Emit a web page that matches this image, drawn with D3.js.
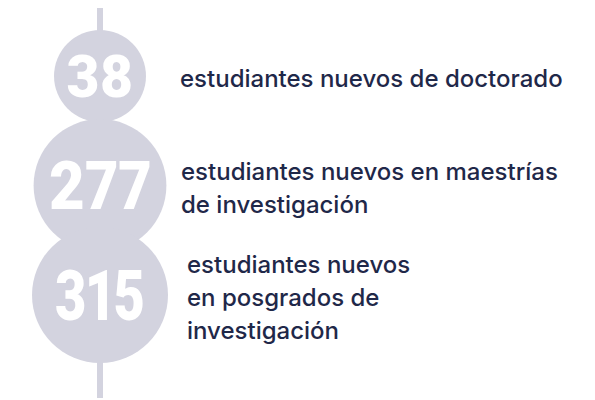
<!DOCTYPE html>
<html>
<head>
<meta charset="utf-8">
<script src="https://cdn.jsdelivr.net/npm/d3@7"></script>
<style>
  html, body { margin: 0; padding: 0; background: #ffffff; }
  svg { display: block; }
</style>
</head>
<body>
<div id="chart"></div>
<script>
// ---- data ----
const categories = ["doctorado", "maestrias", "posgrados"];
const values = [38, 277, 315];
const labelLines = [
  ["estudiantes nuevos de doctorado"],
  ["estudiantes nuevos en maestrías", "de investigación"],
  ["estudiantes nuevos", "en posgrados de", "investigación"]
];

// ---- layout (not data) ----
const W = 595, H = 400;
const cx = 100;
const circleColor = "#d3d3df";
const textColor = "#1f2849";
const labelIndent = [0, 1, 7];
const numSize = [59, 66, 70];
const numWidth = [67, 102, 90];
const lineH = 33;

const svg = d3.select("#chart").append("svg")
  .attr("width", W).attr("height", H);

const y = d3.scalePoint().domain(categories).range([76, 295]);
const r = d3.scalePow().exponent(0.185).domain([0, 315]).range([0, 68]);

// vertical line
svg.append("line")
  .attr("x1", cx).attr("x2", cx)
  .attr("y1", 8).attr("y2", 398)
  .attr("stroke", circleColor).attr("stroke-width", 6);

const data = categories.map((c, i) => ({ c, v: values[i], lines: labelLines[i], i }));

svg.selectAll("circle.b").data(data).join("circle")
  .attr("class", "b")
  .attr("cx", cx)
  .attr("cy", d => y(d.c))
  .attr("r", d => r(d.v))
  .attr("fill", circleColor);

svg.selectAll("text.num").data(data).join("text")
  .attr("class", "num")
  .attr("x", cx)
  .attr("y", d => y(d.c))
  .attr("dy", "0.355em")
  .attr("text-anchor", "middle")
  .style("font-family", "Roboto, sans-serif")
  .style("font-weight", 900)
  .style("font-variant-numeric", "proportional-nums")
  .style("font-size", d => numSize[d.i] + "px")
  .attr("textLength", d => numWidth[d.i])
  .attr("lengthAdjust", "spacingAndGlyphs")
  .attr("fill", "#ffffff")
  .text(d => d3.format("d")(d.v));

const lab = svg.selectAll("text.lab").data(data).join("text")
  .attr("class", "lab")
  .style("font-family", "Inter, Roboto, sans-serif")
  .style("font-size", "24px")
  .style("font-weight", 500)
  .attr("fill", textColor);

lab.each(function(d) {
  const n = d.lines.length;
  const x0 = 180 + labelIndent[d.i];
  const base = y(d.c) + 11 - (n - 1) * lineH / 2;
  d3.select(this).selectAll("tspan").data(d.lines).join("tspan")
    .attr("x", x0)
    .attr("y", (t, j) => base + j * lineH)
    .text(t => t);
});
</script>
</body>
</html>
